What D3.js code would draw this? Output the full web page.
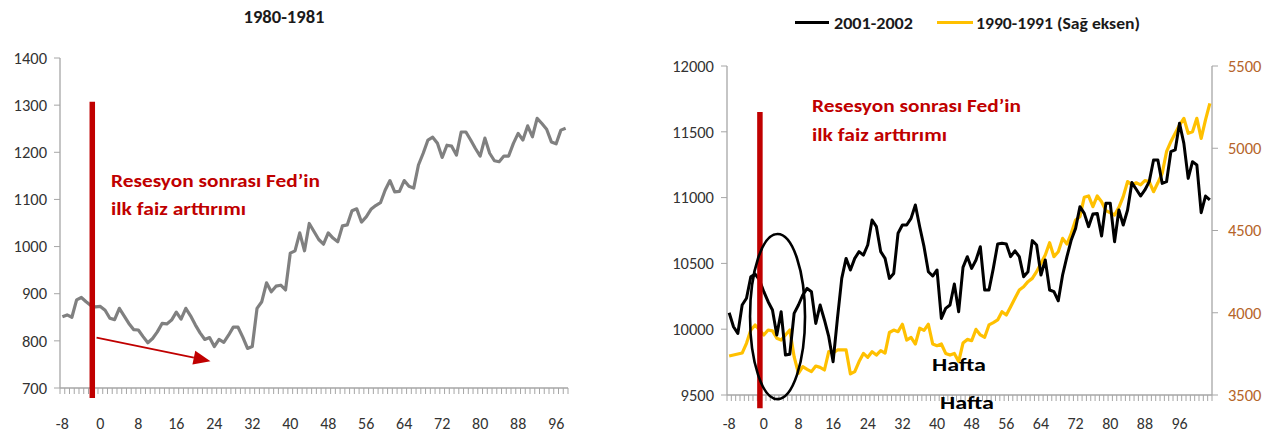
<!DOCTYPE html>
<html><head><meta charset="utf-8">
<script src="https://cdn.jsdelivr.net/npm/d3@7"></script>
<style>
html,body{margin:0;padding:0;background:#fff;}
svg{display:block;}
text{font-family:Carlito,Lato,"Open Sans",sans-serif;}
</style></head>
<body>
<svg id="chart" width="1284" height="441"></svg>
<script>
// ---------- DATA ----------
const leftTitle = "1980-1981";
const leftStartWeek = -8;
const leftValues = [851,855,850,887,892,883,875,872,
 873,865,848,845,869,853,837,824,823,809,
 796,805,819,837,836,844,861,846,869,853,
 834,817,803,807,788,803,797,812,829,829,
 808,784,788,869,883,923,904,916,918,908,
 986,991,1029,991,1049,1032,1015,1005,1029,1018,
 1010,1044,1046,1076,1080,1052,1063,1079,1087,1093,
 1120,1140,1116,1117,1140,1128,1124,1173,1198,1226,
 1232,1219,1189,1215,1213,1194,1243,1243,1226,1208,
 1192,1230,1198,1182,1180,1192,1192,1219,1240,1226,
 1256,1233,1272,1261,1249,1222,1218,1247,1251];
const leftYTicks = [700,800,900,1000,1100,1200,1300,1400];

const rightStartWeek = -8;
const seriesNames = ["2001-2002","1990-1991 (Sağ eksen)"];
const values2001 = [10125,10019,9968,10184,10235,10399,10419,10374,
 10285,10209,10146,9956,10133,9804,9810,10120,10184,10260,
 10310,10285,10044,10184,10070,9943,9753,10080,10386,10538,
 10450,10538,10589,10563,10640,10830,10779,10589,10538,10386,
 10424,10729,10792,10792,10842,10944,10779,10627,10437,10404,
 10450,10082,10158,10184,10343,10133,10470,10551,10462,10526,
 10627,10298,10298,10462,10647,10653,10647,10551,10596,10551,
 10399,10437,10673,10640,10412,10526,10298,10285,10216,10412,
 10551,10678,10766,10931,10880,10779,10875,10880,10708,10957,
 10957,10665,10906,10792,10906,11114,11063,11012,11058,11121,
 11286,11286,11108,11121,11349,11362,11565,11412,11146,11273,
 11248,10885,11012,10982];
const values1990 = [3737,3743,3749,3755,3814,3895,3926,3895,
 3865,3895,3890,3845,3834,3865,3895,3733,3632,3672,
 3656,3642,3676,3668,3652,3763,3755,3774,3774,3774,
 3628,3642,3703,3753,3729,3763,3743,3770,3755,3880,
 3895,3885,3930,3834,3850,3810,3906,3893,3930,3810,
 3800,3810,3753,3743,3753,3703,3816,3838,3830,3899,
 3865,3851,3926,3940,3956,4006,3986,4037,4088,4138,
 4158,4189,4209,4250,4301,4351,4426,4341,4371,4452,
 4418,4483,4564,4584,4702,4710,4645,4710,4675,4621,
 4608,4594,4641,4706,4797,4777,4790,4777,4803,4797,
 4736,4790,4848,4979,5040,5091,5141,5182,5091,5101,
 5182,5060,5172,5273];
const rightYTicksL = [9500,10000,10500,11000,11500,12000];
const rightYTicksR = [3500,4000,4500,5000,5500];
const xTickLabels = [-8,0,8,16,24,32,40,48,56,64,72,80,88,96];

const annotLines = ["Resesyon sonrası Fed’in","ilk faiz arttırımı"];
const axisTitle = "Hafta";

// ---------- STYLE ----------
const RED = "#c00000", AXIS = "#a6a6a6", LABEL = "#333333", BROWN = "#b5652a";
const svg = d3.select("#chart");

function drawXAxis(g, x, y0, weeks) {
  g.append("line").attr("x1", x.range()[0]).attr("x2", x.range()[1])
    .attr("y1", y0).attr("y2", y0).attr("stroke", AXIS).attr("stroke-width", 1.3);
  const b = [...weeks.map(w => w - 0.5), weeks[weeks.length-1] + 0.5];
  g.selectAll(null).data(b).join("line")
    .attr("x1", d => x(d)).attr("x2", d => x(d))
    .attr("y1", y0).attr("y2", y0 + 6).attr("stroke", AXIS).attr("stroke-width", 1);
  g.selectAll(null).data(xTickLabels.filter(t => t <= weeks[weeks.length-1])).join("text")
    .attr("x", d => x(d)).attr("y", 429).attr("text-anchor", "middle")
    .attr("font-size", 16).attr("fill", LABEL).text(d => d);
}
function drawYAxis(g, y, x0, ticks, side, color) {
  g.append("line").attr("x1", x0).attr("x2", x0)
    .attr("y1", y.range()[0]).attr("y2", y.range()[1]).attr("stroke", AXIS).attr("stroke-width", 1.3);
  const dir = side === "left" ? -1 : 1;
  g.selectAll(null).data(ticks).join("line")
    .attr("x1", x0).attr("x2", x0 + dir * 6)
    .attr("y1", d => y(d)).attr("y2", d => y(d)).attr("stroke", AXIS).attr("stroke-width", 1);
  g.selectAll(null).data(ticks).join("text")
    .attr("x", x0 + dir * (side === "left" ? 13 : 16)).attr("y", d => y(d)).attr("dy", "0.35em")
    .attr("text-anchor", side === "left" ? "end" : "start")
    .attr("font-size", 16.5).attr("fill", color).text(d => d);
}
function fitText(sel, w) { sel.attr("textLength", w).attr("lengthAdjust", "spacingAndGlyphs"); }

// ---------- LEFT CHART ----------
{
  const weeks = leftValues.map((v, i) => leftStartWeek + i);
  const x = d3.scaleLinear().domain([weeks[0] - 0.5, weeks[weeks.length-1] + 0.5]).range([60, 568]);
  const y = d3.scaleLinear().domain([700, 1400]).range([388, 58]);
  const g = svg.append("g");
  fitText(g.append("text").attr("x", 284).attr("y", 23).attr("text-anchor", "middle")
    .attr("font-size", 17).attr("font-weight", "bold").attr("fill", "#1a1a1a").text(leftTitle), 81);
  drawYAxis(g, y, 60, leftYTicks, "left", LABEL);
  drawXAxis(g, x, 388, weeks);
  g.append("path").datum(leftValues)
    .attr("d", d3.line().x((d, i) => x(weeks[i])).y(d => y(d)).curve(d3.curveLinear))
    .attr("fill", "none").attr("stroke", "#808080").attr("stroke-width", 3.2)
    .attr("stroke-linejoin", "round");
  // Fed line
  const fedW = -1.7;
  g.append("line").attr("x1", x(fedW)).attr("x2", x(fedW)).attr("y1", y(1307)).attr("y2", y(679))
    .attr("stroke", RED).attr("stroke-width", 5.5);
  fitText(g.append("text").attr("x", 111).attr("y", 187).attr("font-size", 18).attr("font-weight", "bold")
    .attr("fill", RED).text(annotLines[0]), 209);
  fitText(g.append("text").attr("x", 111).attr("y", 215).attr("font-size", 18).attr("font-weight", "bold")
    .attr("fill", RED).text(annotLines[1]), 135);
  // arrow
  const ax1 = x(-0.8), ay1 = y(807), ax2 = x(23.2), ay2 = y(757);
  const ang = Math.atan2(ay2 - ay1, ax2 - ax1), L = 17, Wd = 7;
  const bx = ax2 - L * Math.cos(ang), by = ay2 - L * Math.sin(ang);
  g.append("line").attr("x1", ax1).attr("y1", ay1).attr("x2", bx).attr("y2", by)
    .attr("stroke", RED).attr("stroke-width", 1.8);
  g.append("path").attr("d", `M${ax2},${ay2}L${bx + Wd*Math.sin(ang)},${by - Wd*Math.cos(ang)}L${bx - Wd*Math.sin(ang)},${by + Wd*Math.cos(ang)}Z`)
    .attr("fill", RED);
}

// ---------- RIGHT CHART ----------
{
  const weeks = values2001.map((v, i) => rightStartWeek + i);
  const x = d3.scaleLinear().domain([weeks[0] - 0.5, weeks[weeks.length-1] + 0.5]).range([727, 1212]);
  const yL = d3.scaleLinear().domain([9500, 12000]).range([395, 66]);
  const yR = d3.scaleLinear().domain([3500, 5500]).range([395, 66]);
  const g = svg.append("g");
  drawYAxis(g, yL, 727, rightYTicksL, "left", LABEL);
  drawYAxis(g, yR, 1212, rightYTicksR, "right", BROWN);
  drawXAxis(g, x, 395, weeks);
  g.append("path").datum(values1990)
    .attr("d", d3.line().x((d, i) => x(weeks[i])).y(d => yR(d)))
    .attr("fill", "none").attr("stroke", "#ffc000").attr("stroke-width", 3.2).attr("stroke-linejoin", "round");
  g.append("path").datum(values2001)
    .attr("d", d3.line().x((d, i) => x(weeks[i])).y(d => yL(d)))
    .attr("fill", "none").attr("stroke", "#000").attr("stroke-width", 3).attr("stroke-linejoin", "round");
  // legend
  const lg = g.append("g");
  lg.append("line").attr("x1", 795).attr("x2", 829).attr("y1", 22.5).attr("y2", 22.5).attr("stroke", "#000").attr("stroke-width", 3.2);
  fitText(lg.append("text").attr("x", 834).attr("y", 28.5).attr("font-size", 16.5).attr("font-weight", "bold").attr("fill", "#1a1a1a").text(seriesNames[0]), 79);
  lg.append("line").attr("x1", 937).attr("x2", 973).attr("y1", 22.5).attr("y2", 22.5).attr("stroke", "#ffc000").attr("stroke-width", 3.2);
  fitText(lg.append("text").attr("x", 976).attr("y", 28.5).attr("font-size", 16.5).attr("font-weight", "bold").attr("fill", "#1a1a1a").text(seriesNames[1]), 164);
  // fed line
  const fedW = -0.9;
  g.append("line").attr("x1", x(fedW)).attr("x2", x(fedW)).attr("y1", yL(11650)).attr("y2", yL(9400))
    .attr("stroke", RED).attr("stroke-width", 5.5);
  fitText(g.append("text").attr("x", 812).attr("y", 112).attr("font-size", 18).attr("font-weight", "bold")
    .attr("fill", RED).text(annotLines[0]), 209);
  fitText(g.append("text").attr("x", 812).attr("y", 141).attr("font-size", 18).attr("font-weight", "bold")
    .attr("fill", RED).text(annotLines[1]), 135);
  // ellipse
  const cx = x(3.17), cy = yL(10096);
  g.append("ellipse").attr("cx", cx).attr("cy", cy)
    .attr("rx", x(3.17 + 6.35) - cx).attr("ry", yL(10096 - 627) - cy)
    .attr("fill", "none").attr("stroke", "#000").attr("stroke-width", 2.6);
  // axis titles (Hafta)
  fitText(g.append("text").attr("x", 932).attr("y", 371).attr("font-size", 18).attr("font-weight", "bold").attr("fill", "#000").text(axisTitle), 54);
  fitText(g.append("text").attr("x", 940).attr("y", 409).attr("font-size", 17).attr("font-weight", "bold").attr("fill", "#000").text(axisTitle), 54);
}
</script>
</body></html>
